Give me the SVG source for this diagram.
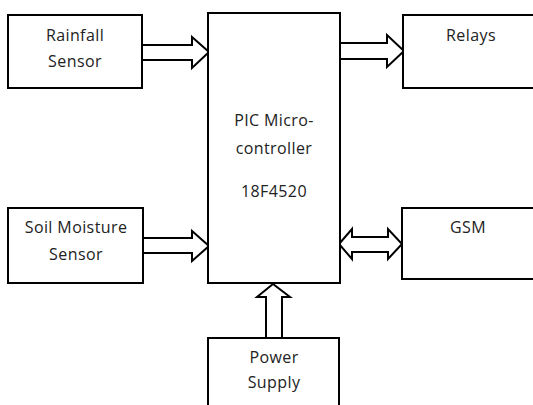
<svg xmlns="http://www.w3.org/2000/svg" width="533" height="405" viewBox="0 0 533 405">
<style>
.box{fill:#fff;stroke:#000;stroke-width:2}
.arr{fill:#fff;stroke:#000;stroke-width:2;stroke-linejoin:miter}
text{font-family:"Open Sans","Noto Sans",sans-serif;font-size:16px;letter-spacing:0.4px;fill:#222;text-anchor:middle}
</style>
<rect width="533" height="405" fill="#fff"/>
<g id="connectors">
<polygon class="arr" points="142,45 192,45 192,37 209,52 192,68 192,60 142,60"/>
<polygon class="arr" points="340,43 387,43 387,35 404,51 387,67 387,59 340,59"/>
<polygon class="arr" points="143,238 192,238 192,231 209,246 192,261 192,253 143,253"/>
<polygon class="arr" points="339,244 352,229 352,237 388,237 388,229 402,244 388,259 388,252 352,252 352,259"/>
<polygon class="arr" points="273,284 290,297 282,297 282,338 266,338 266,297 257,297"/>
</g>
<g id="rainfall">
<rect class="box" x="8" y="15" width="134" height="73"/>
<text x="75" y="41">Rainfall</text>
<text x="75" y="67">Sensor</text>
</g>
<g id="micro">
<rect class="box" x="208" y="13" width="132" height="270"/>
<text x="274" y="126">PIC Micro-</text>
<text x="274" y="154">controller</text>
<text x="274" y="197">18F4520</text>
</g>
<g id="relays">
<rect class="box" x="403" y="15" width="140" height="73"/>
<text x="471" y="41">Relays</text>
</g>
<g id="soil">
<rect class="box" x="8" y="208" width="135" height="75"/>
<text x="76" y="233">Soil Moisture</text>
<text x="76" y="260">Sensor</text>
</g>
<g id="gsm">
<rect class="box" x="402" y="208" width="140" height="71"/>
<text x="468" y="233">GSM</text>
</g>
<g id="power">
<rect class="box" x="208" y="338" width="131" height="80"/>
<text x="274" y="363">Power</text>
<text x="274" y="388">Supply</text>
</g>
</svg>
